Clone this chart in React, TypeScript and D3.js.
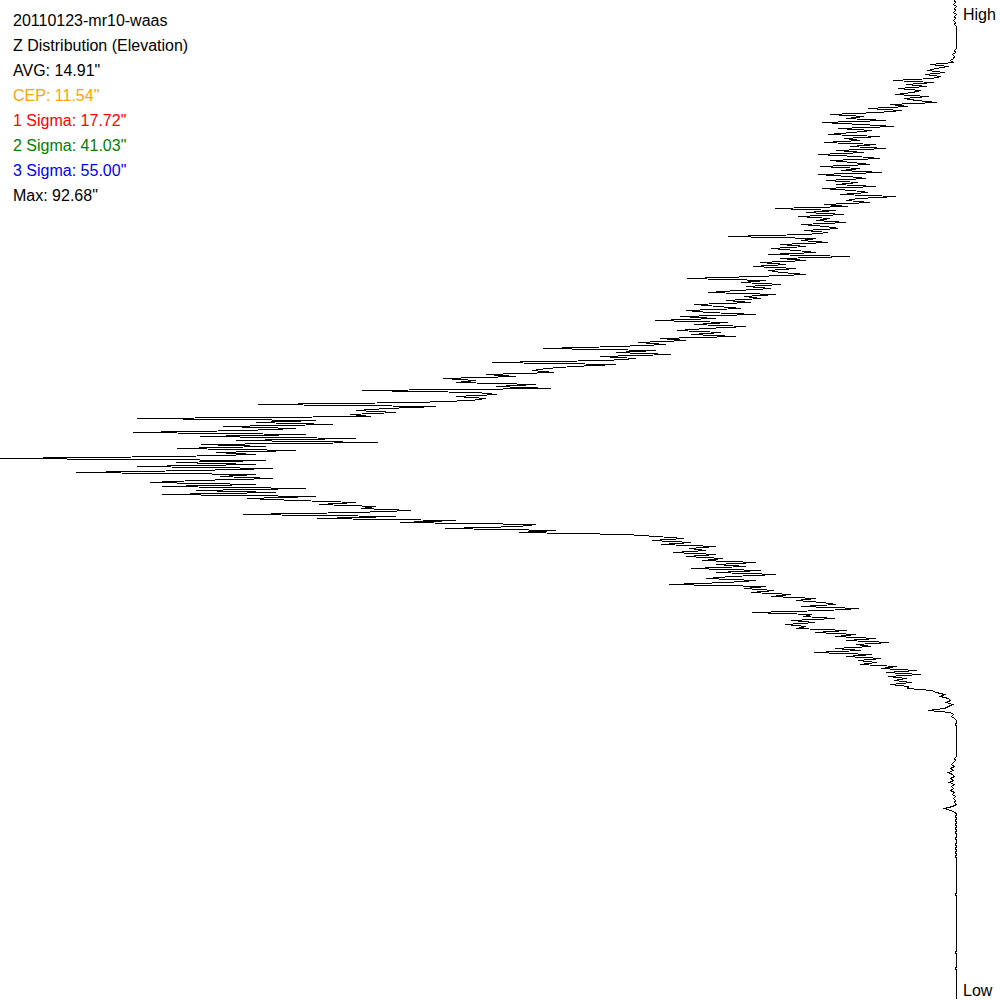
import React from "react";
import * as d3 from "d3";

// Counts per elevation bin (one bin every 2 rows, top = High, bottom = Low)
const countsBlock0 = [2,1,3,0,2,1,3,0,2,1, 3,1,2,0,0,0,0,0,0,0, 0,0,0,0,0,2,1,4,2,3, 6,3,26,8,20,29,12,31,16,24, 63,23,50,30,58,36,44,61,28,52];
const countsBlock1 = [40,20,66,48,88,55,78,126,92,110, 70,134,95,62,118,84,104,128,76,112, 96,132,80,106,70,120,92,138,100,76, 126,104,86,136,96,115,74,138,108,90, 130,98,120,80,134,104,88,116,60,98];
const countsBlock2 = [110,86,132,108,181,120,150,112,158,126, 140,110,155,130,118,152,128,150,228,140, 155,128,176,150,185,160,140,188,106,176, 150,196,170,203,160,188,175,150,200,269, 190,215,175,210,185,219,248,180,212,195];
const countsBlock3 = [230,205,262,238,215,270,248,200,276,240, 301,228,262,210,250,279,235,265,220,296, 270,318,290,338,413,300,340,285,356,320, 350,464,340,383,410,424,402,470,440,513, 480,500,420,460,405,594,480,459,500,470];
const countsBlock4 = [485,540,698,520,569,600,560,606,585,819, 640,700,623,733,660,710,823,650,756,600, 720,578,755,690,779,660,740,700,779,956, 690,780,700,819,683,760,880,700,736,683, 760,806,700,794,650,760,680,794,640,709];
const countsBlock5 = [660,600,637,580,595,545,600,713,560,639, 500,556,420,437,511,400,437,330,300,272, 304,265,295,240,267,250,283,240,270,233, 254,200,240,210,265,195,240,180,225,250, 200,230,287,190,212,182,205,165,185,140];
const countsBlock6 = [160,134,120,155,97,130,204,144,153,121, 165,141,171,150,160,109,141,100,121,80, 110,67,100,85,121,95,142,84,110,75, 98,80,96,60,75,40,70,36,68,50, 62,45,66,48,49,25,20,12,16,8];
const countsBlock7 = [6,10,4,8,12,28,6,3,5,2, 0,0,1,0,0,0,0,0,0,0, 0,0,0,0,0,0,0,0,0,2, 1,3,5,2,6,3,8,4,2,6, 3,7,2,5,3,6,2,4,1,3];
const countsBlock8 = [1,2,0,4,12,6,1,0,1,0, 1,0,1,0,1,0,1,0,0,1, 0,0,1,0,1,0,1,0,1,0, 0,0,0,0,0,0,0,0,0,0, 0,0,0,0,0,0,0,1,0,0];
const countsBlock9 = [0,0,0,0,0,0,0,0,0,0, 0,0,0,0,0,0,0,0,0,0, 0,0,0,0,0,0,1,0,0,0, 0,0,0,0,1,0,0,0,0,0, 0,0,0,0,0,0,0,0,0,0];

const titleLines = ["20110123-mr10-waas", "Z Distribution (Elevation)"];
const statLabels = ["AVG", "CEP", "1 Sigma", "2 Sigma", "3 Sigma", "Max"];
const statValues = [14.91, 11.54, 17.72, 41.03, 55.0, 92.68];
const statColors = ["#000000", "#FFA500", "#FF0000", "#008000", "#0000FF", "#000000"];
const axisLabels = ["High", "Low"];

const W = 1000;
const H = 1000;

export default function App() {
  const counts = [
    ...countsBlock0, ...countsBlock1, ...countsBlock2, ...countsBlock3, ...countsBlock4,
    ...countsBlock5, ...countsBlock6, ...countsBlock7, ...countsBlock8, ...countsBlock9,
  ];
  const maxCount = d3.max(counts) as number;
  const x = d3.scaleLinear().domain([0, maxCount]).range([956.5, 0]);
  const y = d3.scaleLinear().domain([0, counts.length - 1]).range([0.5, 998.5]);
  const line = d3
    .line<number>()
    .x((d) => x(d))
    .y((_, i) => y(i));

  const textLines = [
    ...titleLines.map((t) => ({ t, c: "#000000" })),
    ...statLabels.map((l, i) => ({ t: `${l}: ${statValues[i].toFixed(2)}"`, c: statColors[i] })),
  ];

  return (
    <svg
      width={W}
      height={H}
      style={{ position: "absolute", left: 0, top: 0, background: "#fff" }}
      fontFamily="'Liberation Sans', Arial, sans-serif"
    >
      <rect width={W} height={H} fill="#fff" />
      <path d={line(counts) || ""} fill="none" stroke="#000" strokeWidth={1} shapeRendering="crispEdges" />
      {textLines.map((d, i) => (
        <text key={i} x={13} y={26 + i * 25} fontSize={16} fill={d.c}>
          {d.t}
        </text>
      ))}
      <text x={963} y={20} fontSize={16} fill="#000">{axisLabels[0]}</text>
      <text x={963} y={996} fontSize={16} fill="#000">{axisLabels[1]}</text>
    </svg>
  );
}
